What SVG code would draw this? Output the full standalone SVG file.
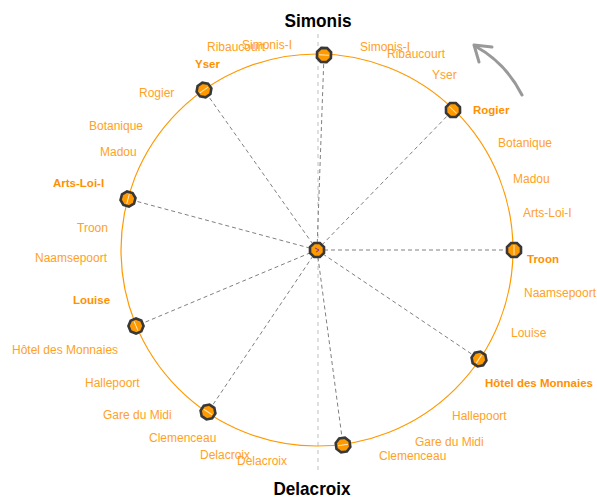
<svg xmlns="http://www.w3.org/2000/svg" xmlns:xlink="http://www.w3.org/1999/xlink" width="597" height="498" viewBox="0 0 597 498">
<style>
.lbl{font-family:"Liberation Sans",Arial,sans-serif;font-size:12px;fill:#ffa126}
.lb{font-family:"Liberation Sans",Arial,sans-serif;font-size:11.5px;font-weight:bold;fill:#ff9000}
.ttl{font-family:"Liberation Sans",Arial,sans-serif;font-size:19px;font-weight:bold;fill:#000}
.spoke{stroke:#808080;stroke-width:1;stroke-dasharray:4 3;fill:none}
.axis{stroke:#c0c0c0;stroke-width:1;stroke-dasharray:4 4;fill:none}
.tick{stroke:#fff;stroke-width:1;opacity:0.8}
</style>
<defs>
<path id="oct" d="M-2.9,-7 L2.9,-7 L7,-2.9 L7,2.9 L2.9,7 L-2.9,7 L-7,2.9 L-7,-2.9 Z" fill="#ff9900" stroke="#383838" stroke-width="2.6"/>
</defs>
<rect width="597" height="498" fill="#fff"/>
<line class="axis" x1="318" y1="34" x2="318" y2="470"/>
<circle cx="317" cy="250" r="196" fill="none" stroke="#ff9900" stroke-width="1.2"/>
<g id="connectors">
<line class="spoke" x1="317" y1="250" x2="324" y2="55"/>
<line class="spoke" x1="317" y1="250" x2="453" y2="110"/>
<line class="spoke" x1="317" y1="250" x2="514" y2="250"/>
<line class="spoke" x1="317" y1="250" x2="479" y2="359"/>
<line class="spoke" x1="317" y1="250" x2="343" y2="445"/>
<line class="spoke" x1="317" y1="250" x2="208" y2="412"/>
<line class="spoke" x1="317" y1="250" x2="136" y2="326"/>
<line class="spoke" x1="317" y1="250" x2="128" y2="199"/>
<line class="spoke" x1="317" y1="250" x2="204" y2="90"/>
</g>
<g id="direction-arrow" fill="none" stroke="#999" stroke-width="3" stroke-linecap="round" stroke-linejoin="round">
<path d="M522,95 Q506,63 475,46"/>
<path d="M492,47 L474,45 L479,62"/>
</g>
<g id="node-center" transform="translate(317,250)"><use xlink:href="#oct"/><path d="M-2,-2 L2,0 L-1,2" stroke="#7a2fb0" stroke-width="1" fill="none"/></g>
<g id="node-simonis" transform="translate(324,55) rotate(2.1)"><use xlink:href="#oct"/><line class="tick" x1="-5" y1="0" x2="5" y2="0"/></g>
<g id="node-rogier" transform="translate(453,110) rotate(44.2)"><use xlink:href="#oct"/><line class="tick" x1="-5" y1="0" x2="5" y2="0"/></g>
<g id="node-troon" transform="translate(514,250) rotate(90)"><use xlink:href="#oct"/><line class="tick" x1="-5" y1="0" x2="5" y2="0"/></g>
<g id="node-hotel" transform="translate(479,359) rotate(123.9)"><use xlink:href="#oct"/><line class="tick" x1="-5" y1="0" x2="5" y2="0"/></g>
<g id="node-delacroix" transform="translate(343,445) rotate(172.4)"><use xlink:href="#oct"/><line class="tick" x1="-5" y1="0" x2="5" y2="0"/></g>
<g id="node-clemenceau" transform="translate(208,412) rotate(213.9)"><use xlink:href="#oct"/><line class="tick" x1="-5" y1="0" x2="5" y2="0"/></g>
<g id="node-louise" transform="translate(136,326) rotate(247.2)"><use xlink:href="#oct"/><line class="tick" x1="-5" y1="0" x2="5" y2="0"/></g>
<g id="node-artsloi" transform="translate(128,199) rotate(-74.9)"><use xlink:href="#oct"/><line class="tick" x1="-5" y1="0" x2="5" y2="0"/></g>
<g id="node-yser" transform="translate(204,90) rotate(-35.2)"><use xlink:href="#oct"/><line class="tick" x1="-5" y1="0" x2="5" y2="0"/></g>
<g id="titles">
<text class="ttl" x="318" y="27" text-anchor="middle" textLength="67" lengthAdjust="spacingAndGlyphs">Simonis</text>
<text class="ttl" x="312" y="495" text-anchor="middle" textLength="77" lengthAdjust="spacingAndGlyphs">Delacroix</text>
</g>
<g id="labels-right">
<text class="lbl" x="360" y="51">Simonis-I</text>
<text class="lbl" x="387" y="58">Ribaucourt</text>
<text class="lbl" x="432" y="79">Yser</text>
<text class="lb" x="473" y="114">Rogier</text>
<text class="lbl" x="498" y="147">Botanique</text>
<text class="lbl" x="513" y="183">Madou</text>
<text class="lbl" x="523" y="217">Arts-Loi-I</text>
<text class="lb" x="527" y="263">Troon</text>
<text class="lbl" x="524" y="297">Naamsepoort</text>
<text class="lbl" x="511" y="337">Louise</text>
<text class="lb" x="485" y="387">Hôtel des Monnaies</text>
<text class="lbl" x="452" y="420">Hallepoort</text>
<text class="lbl" x="415" y="446">Gare du Midi</text>
<text class="lbl" x="379" y="460">Clemenceau</text>
</g>
<g id="labels-left">
<text class="lbl" x="207" y="51">Ribaucourt</text>
<text class="lbl" x="242" y="49">Simonis-I</text>
<text class="lb" x="195" y="68">Yser</text>
<text class="lbl" x="139" y="97">Rogier</text>
<text class="lbl" x="89" y="130">Botanique</text>
<text class="lbl" x="100" y="156">Madou</text>
<text class="lb" x="53" y="187">Arts-Loi-I</text>
<text class="lbl" x="77" y="232">Troon</text>
<text class="lbl" x="35" y="262">Naamsepoort</text>
<text class="lb" x="73" y="304">Louise</text>
<text class="lbl" x="12" y="354">Hôtel des Monnaies</text>
<text class="lbl" x="85" y="387">Hallepoort</text>
<text class="lbl" x="103" y="419">Gare du Midi</text>
<text class="lbl" x="149" y="442">Clemenceau</text>
<text class="lbl" x="200" y="459">Delacroix</text>
<text class="lbl" x="237" y="465">Delacroix</text>
</g>
</svg>
